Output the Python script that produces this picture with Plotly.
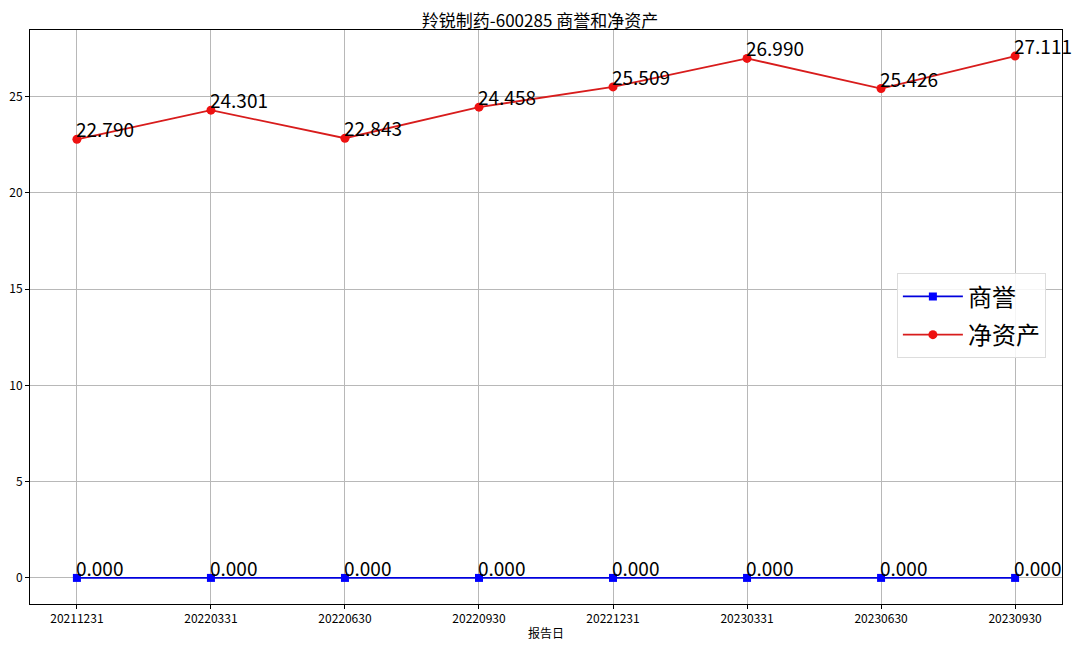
import plotly.graph_objects as go

dates = ["20211231", "20220331", "20220630", "20220930", "20221231", "20230331", "20230630", "20230930"]
goodwill = [0.0, 0.0, 0.0, 0.0, 0.0, 0.0, 0.0, 0.0]
net_assets = [22.790, 24.301, 22.843, 24.458, 25.509, 26.990, 25.426, 27.111]
title = "羚锐制药-600285 商誉和净资产"
series_names = ["商誉", "净资产"]
x_title = "报告日"

FONT = "Noto Sans CJK SC, Noto Sans, sans-serif"
xi = list(range(len(dates)))

fig = go.Figure()
fig.add_trace(go.Scatter(x=xi, y=goodwill, name=series_names[0], mode="lines+markers",
                         legendgroup="g1",
                         line=dict(color="#0000dd", width=1.8),
                         marker=dict(symbol="square", size=8, color="#0000ff")))
fig.add_trace(go.Scatter(x=xi, y=net_assets, name=series_names[1], mode="lines+markers",
                         legendgroup="g2",
                         line=dict(color="#d81c1c", width=1.8),
                         marker=dict(symbol="circle", size=9, color="#ee1111")))

anns = []
for series in (goodwill, net_assets):
    for x, v in zip(xi, series):
        anns.append(dict(x=x, y=v, xref="x", yref="y", text=f"{v:.3f}", showarrow=False,
                         xanchor="left", yanchor="bottom", xshift=-3, yshift=-5,
                         font=dict(family=FONT, size=19, color="black")))

W, H = 1064, 636
fig.update_layout(
    width=W, height=H,
    paper_bgcolor="white", plot_bgcolor="white",
    margin=dict(l=22, r=10, t=22, b=40),
    title=dict(text=title, x=0.5, xanchor="center", y=1 - 13.5 / H, yanchor="middle",
               font=dict(family=FONT, size=17, color="black"), automargin=False),
    font=dict(family=FONT, size=12, color="black"),
    showlegend=True,
    legend=dict(x=0.84, xanchor="left", y=0.502, yanchor="middle",
                font=dict(family=FONT, size=24, color="black"),
                bgcolor="rgba(255,255,255,0.85)", bordercolor="#dddddd", borderwidth=1,
                itemwidth=60, traceorder="grouped", tracegroupgap=4),
    annotations=anns,
)
fig.update_xaxes(range=[-0.35, 7.35], tickmode="array", tickvals=xi, ticktext=dates,
                 automargin=False,
                 showgrid=True, gridcolor="#b8b8b8", gridwidth=1,
                 showline=True, linecolor="black", linewidth=1, mirror=True,
                 ticks="outside", ticklen=4, tickcolor="black", zeroline=False,
                 title=dict(text=x_title, font=dict(family=FONT, size=12), standoff=4),
                 tickfont=dict(family=FONT, size=12))
fig.update_yaxes(range=[-1.3556, 28.4666], tickmode="array", tickvals=[0, 5, 10, 15, 20, 25],
                 automargin=False,
                 showgrid=True, gridcolor="#b8b8b8", gridwidth=1,
                 showline=True, linecolor="black", linewidth=1, mirror=True,
                 ticks="outside", ticklen=4, tickcolor="black", zeroline=False,
                 tickfont=dict(family=FONT, size=12))

fig.write_html("out.html")
